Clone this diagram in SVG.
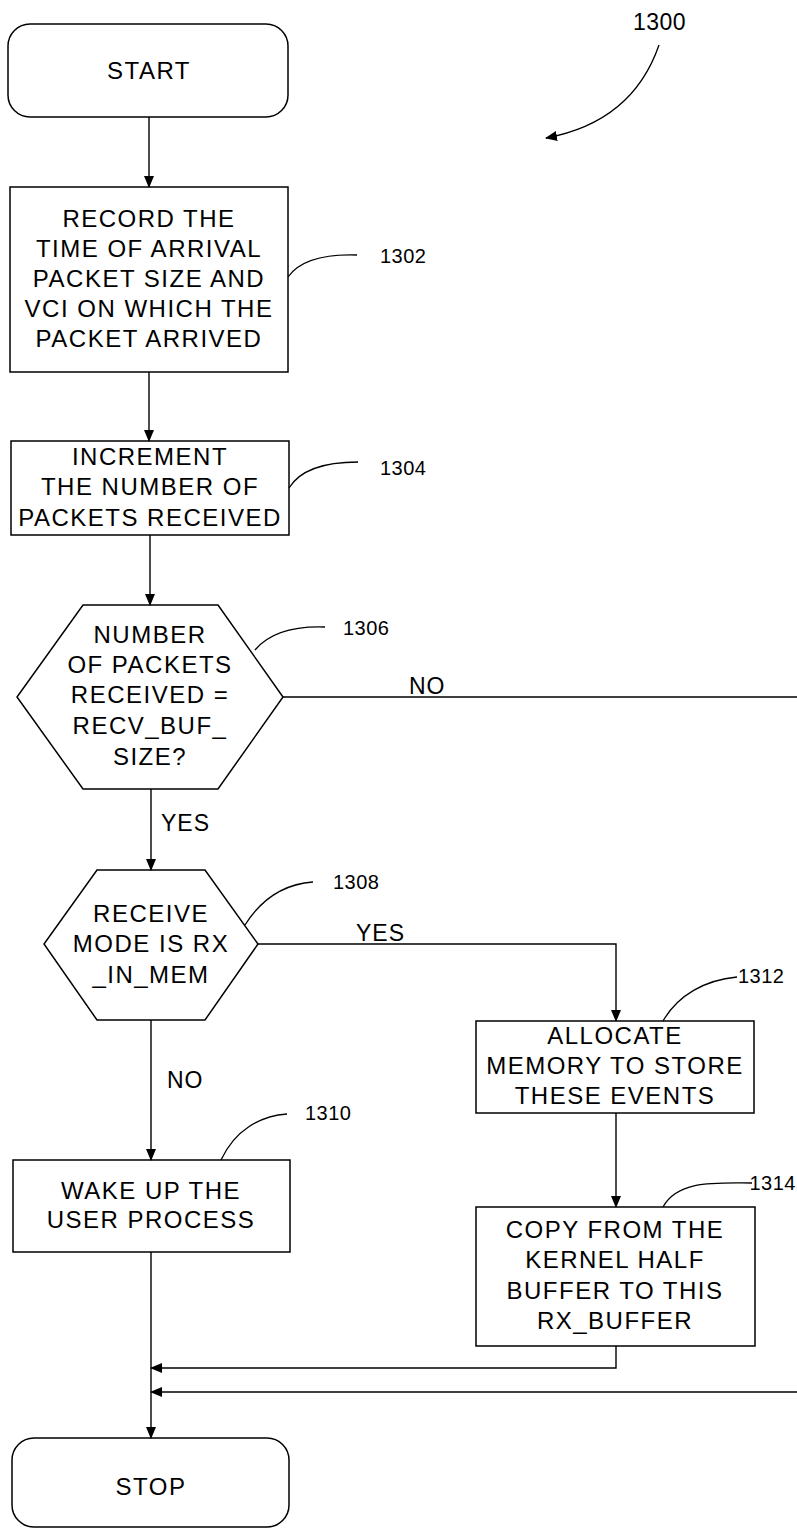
<svg xmlns="http://www.w3.org/2000/svg" width="797" height="1529" viewBox="0 0 797 1529">
<style>
.shape{fill:#fff;stroke:#000;stroke-width:1.5}
.line{fill:none;stroke:#000;stroke-width:1.4}
.lead{fill:none;stroke:#000;stroke-width:1.3}
.t{font-family:"Liberation Sans",Arial,sans-serif;font-size:24px;letter-spacing:1.5px;text-anchor:middle;fill:#000}
.lbl{font-family:"Liberation Sans",Arial,sans-serif;font-size:20px;letter-spacing:0.5px;fill:#000}
.edge{font-family:"Liberation Sans",Arial,sans-serif;font-size:23px;letter-spacing:1px;fill:#000}
</style>
<defs>
<marker id="ah" markerWidth="12" markerHeight="10" refX="11" refY="5" orient="auto" markerUnits="userSpaceOnUse">
<path d="M0,0 L12,5 L0,10 Z" fill="#000"/>
</marker>
</defs>
<rect width="797" height="1529" fill="#fff"/>

<g id="ref1300">
<text class="lbl" x="633" y="30" style="font-size:23px">1300</text>
<path class="lead" d="M659,45 C640,100 600,128 546,138" marker-end="url(#ah)"/>
</g>

<g id="start">
<rect class="shape" x="8" y="24" width="280" height="93" rx="22" ry="22"/>
<text class="t" x="149" y="79">START</text>
</g>

<g id="n1302">
<rect class="shape" x="10" y="187" width="278" height="185"/>
<text class="t" x="149" y="227">RECORD THE</text>
<text class="t" x="149" y="257">TIME OF ARRIVAL</text>
<text class="t" x="149" y="287">PACKET SIZE AND</text>
<text class="t" x="149" y="317">VCI ON WHICH THE</text>
<text class="t" x="149" y="347">PACKET ARRIVED</text>
<path class="lead" d="M288,277 C300,260 325,254 357,255"/>
<text class="lbl" x="380" y="263">1302</text>
</g>

<g id="n1304">
<rect class="shape" x="11" y="441" width="278" height="94"/>
<text class="t" x="150" y="465">INCREMENT</text>
<text class="t" x="150" y="495">THE NUMBER OF</text>
<text class="t" x="150" y="526">PACKETS RECEIVED</text>
<path class="lead" d="M289,488 C300,470 325,462 358,462"/>
<text class="lbl" x="380" y="475">1304</text>
</g>

<g id="n1306">
<polygon class="shape" points="83,605 218,605 283,697 218,789 83,789 17,697"/>
<text class="t" x="150" y="643">NUMBER</text>
<text class="t" x="150" y="673">OF PACKETS</text>
<text class="t" x="150" y="703">RECEIVED =</text>
<text class="t" x="150" y="734">RECV_BUF_</text>
<text class="t" x="150" y="765">SIZE?</text>
<path class="lead" d="M255,650 C270,632 295,626 325,627"/>
<text class="lbl" x="343" y="635">1306</text>
</g>

<g id="n1308">
<polygon class="shape" points="97,870 205,870 258,944 205,1020 97,1020 44,944"/>
<text class="t" x="151" y="922">RECEIVE</text>
<text class="t" x="151" y="952">MODE IS RX</text>
<text class="t" x="151" y="983">_IN_MEM</text>
<path class="lead" d="M245,925 C262,898 285,884 313,882"/>
<text class="lbl" x="333" y="889">1308</text>
</g>

<g id="n1310">
<rect class="shape" x="13" y="1160" width="277" height="92"/>
<text class="t" x="151" y="1199">WAKE UP THE</text>
<text class="t" x="151" y="1228">USER PROCESS</text>
<path class="lead" d="M221,1160 C235,1130 260,1116 287,1114"/>
<text class="lbl" x="305" y="1120">1310</text>
</g>

<g id="n1312">
<rect class="shape" x="476" y="1021" width="278" height="92"/>
<text class="t" x="615" y="1044">ALLOCATE</text>
<text class="t" x="615" y="1074">MEMORY TO STORE</text>
<text class="t" x="615" y="1104">THESE EVENTS</text>
<path class="lead" d="M663,1021 C678,995 705,980 737,977"/>
<text class="lbl" x="738" y="983">1312</text>
</g>

<g id="n1314">
<rect class="shape" x="476" y="1207" width="279" height="139"/>
<text class="t" x="615" y="1238">COPY FROM THE</text>
<text class="t" x="615" y="1268">KERNEL HALF</text>
<text class="t" x="615" y="1299">BUFFER TO THIS</text>
<text class="t" x="615" y="1329">RX_BUFFER</text>
<path class="lead" d="M663,1207 C678,1180 715,1183 752,1183"/>
<text class="lbl" x="796" y="1190" text-anchor="end">1314</text>
</g>

<g id="stop">
<rect class="shape" x="12" y="1438" width="277" height="89" rx="22" ry="22"/>
<text class="t" x="151" y="1495">STOP</text>
</g>

<g id="connectors">
<line class="line" x1="149" y1="117" x2="149" y2="187" marker-end="url(#ah)"/>
<line class="line" x1="149" y1="372" x2="149" y2="441" marker-end="url(#ah)"/>
<line class="line" x1="150" y1="535" x2="150" y2="605" marker-end="url(#ah)"/>
<line class="line" x1="151" y1="789" x2="151" y2="870" marker-end="url(#ah)"/>
<line class="line" x1="283" y1="697" x2="797" y2="697"/>
<polyline class="line" points="258,944 616,944 616,1021" marker-end="url(#ah)"/>
<line class="line" x1="151" y1="1020" x2="151" y2="1160" marker-end="url(#ah)"/>
<line class="line" x1="616" y1="1113" x2="616" y2="1207" marker-end="url(#ah)"/>
<polyline class="line" points="616,1346 616,1368 151,1368" marker-end="url(#ah)"/>
<line class="line" x1="797" y1="1392" x2="151" y2="1392" marker-end="url(#ah)"/>
<line class="line" x1="151" y1="1252" x2="151" y2="1438" marker-end="url(#ah)"/>
<text class="edge" x="409" y="694">NO</text>
<text class="edge" x="161" y="831">YES</text>
<text class="edge" x="356" y="941">YES</text>
<text class="edge" x="167" y="1088">NO</text>
</g>
</svg>
